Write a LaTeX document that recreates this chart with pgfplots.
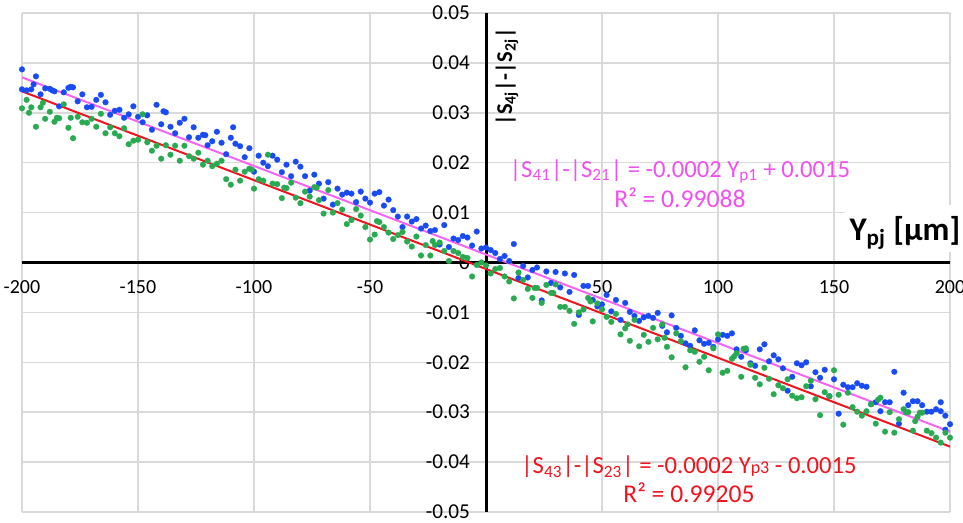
\documentclass[border=0pt]{standalone}
\usepackage{fontspec}
\setmainfont{Carlito}
\usepackage{pgfplots}
\pgfplotsset{compat=1.18}
\definecolor{bluedot}{RGB}{25,75,245}
\definecolor{greendot}{RGB}{40,170,80}
\definecolor{pinkline}{RGB}{245,100,245}
\definecolor{pinktext}{RGB}{240,80,240}
\definecolor{redline}{RGB}{240,20,30}
\definecolor{gridgray}{RGB}{217,217,217}
\begin{document}
\begin{tikzpicture}
\begin{axis}[
  name=ax,
  width=464pt, height=249.5pt, scale only axis,
  xmin=-200, xmax=200, ymin=-0.05, ymax=0.05,
  axis lines=middle,
  axis line style={line width=1.5pt, black, -},
  xtick={-200,-150,-100,-50,50,100,150,200},
  xticklabels={-200,-150,-100,-50,50,100,150,200},
  ytick={-0.05,-0.04,-0.03,-0.02,-0.01,0,0.01,0.02,0.03,0.04,0.05},
  yticklabels={-0.05,-0.04,-0.03,-0.02,-0.01,0,0.01,0.02,0.03,0.04,0.05},
  hide obscured x ticks=false, hide obscured y ticks=false,
  major tick length=0pt,
  grid=major, major grid style={line width=0.75pt, color=gridgray},
  tick label style={font=\fontsize{10}{12}\selectfont},
  yticklabel style={font=\fontsize{10.6}{12}\selectfont, xshift=-4.5pt},
  xticklabel style={yshift=-5.5pt},
  clip=false,
]
\addplot[only marks, mark=*, mark size=1.45pt, mark options={fill=bluedot, draw=bluedot, line width=0.1pt}] coordinates {
(-200,0.0387) (-200,0.0347) (-198,0.0345) (-196,0.0347) (-195,0.0357) (-194,0.0373) (-192,0.0337) (-190,0.0349) (-188,0.0348) (-187,0.0345) (-186,0.0343) (-184,0.0313) (-182,0.0341) (-180,0.0350) (-179,0.0352) (-178,0.0351) (-176,0.0323) (-174,0.0337) (-172,0.0311) (-170,0.0312) (-168,0.0326) (-166,0.0336) (-164,0.0321) (-162,0.0296) (-160,0.0304) (-158,0.0306) (-156,0.0290) (-154,0.0297) (-152,0.0313) (-150,0.0292) (-148,0.0281) (-146,0.0295) (-144,0.0266) (-142,0.0316) (-140,0.0277) (-139,0.0303) (-138,0.0301) (-136,0.0272) (-134,0.0259) (-132,0.0280) (-130,0.0288) (-128,0.0251) (-126,0.0271) (-124,0.0250) (-122,0.0256) (-121,0.0255) (-120,0.0235) (-118,0.0243) (-116,0.0262) (-114,0.0240) (-112,0.0217) (-110,0.0250) (-109,0.0271) (-108,0.0238)
(-106,0.0233) (-104,0.0211) (-102,0.0229) (-100,0.0182) (-98,0.0214) (-96,0.0200) (-94,0.0193) (-92,0.0214) (-90,0.0206) (-88,0.0181) (-86,0.0196) (-84,0.0173) (-82,0.0202) (-80,0.0192) (-78,0.0173) (-76,0.0144) (-74,0.0176) (-72,0.0158) (-70,0.0128) (-68,0.0161) (-66,0.0116) (-64,0.0148) (-62,0.0136) (-60,0.0140) (-58,0.0138) (-56,0.0121) (-54,0.0142) (-52,0.0128) (-50,0.0120) (-48,0.0138) (-46,0.0141) (-44,0.0114) (-42,0.0126) (-40,0.0105) (-38,0.0092) (-36,0.0071) (-34,0.0092) (-32,0.0082) (-30,0.0087) (-28,0.0068) (-26,0.0074) (-24,0.0063) (-22,0.0065) (-20,0.0036) (-18,0.0075) (-16,0.0031) (-14,0.0048) (-12,0.0045) (-10,0.0053) (-8,0.0050) (-6,0.0034) (-4,0.0062) (-2,0.0028)
(0,0.0030) (2,0.0025) (4,0.0019) (6,0.0007) (8,0.0013) (10,0.0003) (12,0.0037) (14,-0.0031) (16,-0.0007) (18,-0.0030) (20,-0.0015) (22,-0.0010) (24,-0.0076) (26,-0.0018) (28,-0.0041) (30,-0.0019) (32,-0.0050) (34,-0.0022) (36,-0.0059) (38,-0.0025) (40,-0.0105) (42,-0.0047) (44,-0.0047) (46,-0.0075) (48,-0.0088) (50,-0.0084) (52,-0.0065) (54,-0.0098) (56,-0.0075) (58,-0.0115) (60,-0.0081) (62,-0.0099) (64,-0.0107) (66,-0.0117) (68,-0.0110) (70,-0.0107) (72,-0.0111) (74,-0.0101) (76,-0.0127) (78,-0.0140) (80,-0.0106) (82,-0.0131) (84,-0.0147) (86,-0.0162) (88,-0.0167) (90,-0.0136) (92,-0.0156) (94,-0.0163) (96,-0.0161) (98,-0.0169)
(100,-0.0154) (102,-0.0145) (104,-0.0147) (106,-0.0142) (108,-0.0174) (110,-0.0189) (112,-0.0176) (114,-0.0202) (116,-0.0207) (118,-0.0174) (120,-0.0164) (122,-0.0198) (124,-0.0186) (126,-0.0194) (128,-0.0212) (130,-0.0257) (132,-0.0229) (134,-0.0202) (136,-0.0206) (138,-0.0200) (140,-0.0248) (142,-0.0220) (144,-0.0231) (146,-0.0215) (148,-0.0268) (150,-0.0234) (152,-0.0303) (154,-0.0245) (156,-0.0250) (158,-0.0250) (160,-0.0242) (162,-0.0247) (164,-0.0249) (166,-0.0284) (168,-0.0280) (170,-0.0298) (172,-0.0280) (174,-0.0280) (176,-0.0219) (178,-0.0323) (180,-0.0261) (182,-0.0286) (184,-0.0278) (186,-0.0278) (188,-0.0286) (190,-0.0299) (192,-0.0299) (194,-0.0294) (196,-0.0280) (196,-0.0298) (198,-0.0307) (198,-0.0335) (200,-0.0324)
};
\addplot[only marks, mark=*, mark size=1.45pt, mark options={fill=greendot, draw=greendot, line width=0.1pt}] coordinates {
(-200,0.0309) (-198,0.0326) (-197,0.0300) (-196,0.0311) (-194,0.0272) (-192,0.0311) (-191,0.0320) (-190,0.0288) (-188,0.0302) (-186,0.0282) (-185,0.0290) (-184,0.0289) (-182,0.0317) (-180,0.0270) (-179,0.0290) (-178,0.0249) (-176,0.0292) (-174,0.0281) (-172,0.0280) (-170,0.0288) (-168,0.0272) (-166,0.0298) (-164,0.0259) (-162,0.0271) (-160,0.0259) (-158,0.0253) (-156,0.0269) (-154,0.0237) (-152,0.0244) (-150,0.0246) (-148,0.0297) (-146,0.0241) (-144,0.0224) (-142,0.0234) (-140,0.0208) (-138,0.0235) (-136,0.0216) (-134,0.0234) (-132,0.0204) (-130,0.0234) (-128,0.0213) (-126,0.0208) (-124,0.0220) (-122,0.0196) (-120,0.0204) (-118,0.0193) (-116,0.0198) (-114,0.0204) (-112,0.0167) (-110,0.0156) (-108,0.0186) (-106,0.0164) (-104,0.0182) (-102,0.0188) (-101,0.0186)
(-100,0.0148) (-98,0.0167) (-96,0.0164) (-94,0.0216) (-92,0.0158) (-90,0.0157) (-88,0.0129) (-87,0.0150) (-86,0.0149) (-84,0.0160) (-82,0.0130) (-80,0.0119) (-78,0.0142) (-76,0.0132) (-74,0.0151) (-73,0.0150) (-72,0.0125) (-70,0.0098) (-68,0.0145) (-66,0.0100) (-64,0.0119) (-62,0.0106) (-60,0.0077) (-58,0.0085) (-56,0.0107) (-54,0.0094) (-52,0.0071) (-50,0.0046) (-48,0.0056) (-47,0.0083) (-46,0.0081) (-44,0.0071) (-42,0.0060) (-40,0.0047) (-38,0.0055) (-36,0.0061) (-34,0.0042) (-32,0.0032) (-30,0.0052) (-28,0.0014) (-26,0.0035) (-24,0.0014) (-23,0.0043) (-22,0.0035) (-20,0.0040) (-18,0.0023) (-16,0.0003) (-14,0.0023) (-12,0.0019) (-10,0.0011) (-8,0.0009) (-6,-0.0028) (-4,-0.0005) (-2,0.0000)
(0,-0.0006) (2,-0.0022) (4,-0.0013) (6,-0.0011) (8,-0.0028) (10,-0.0038) (12,-0.0072) (14,-0.0020) (16,-0.0035) (18,-0.0053) (20,-0.0071) (21,-0.0051) (22,-0.0051) (24,-0.0081) (26,-0.0045) (28,-0.0061) (29,-0.0061) (30,-0.0044) (32,-0.0089) (34,-0.0089) (36,-0.0097) (38,-0.0123) (40,-0.0100) (42,-0.0094) (44,-0.0071) (45,-0.0078) (46,-0.0118) (48,-0.0082) (50,-0.0094) (52,-0.0109) (54,-0.0119) (56,-0.0103) (58,-0.0144) (60,-0.0132) (61,-0.0124) (62,-0.0157) (64,-0.0115) (66,-0.0168) (68,-0.0145) (70,-0.0159) (72,-0.0131) (74,-0.0154) (76,-0.0124) (77,-0.0151) (78,-0.0169) (80,-0.0190) (82,-0.0142) (84,-0.0158) (86,-0.0210) (88,-0.0176) (90,-0.0179) (92,-0.0199) (94,-0.0189) (96,-0.0216) (98,-0.0172)
(100,-0.0144) (102,-0.0221) (104,-0.0217) (106,-0.0193) (107,-0.0188) (108,-0.0182) (110,-0.0229) (111,-0.0173) (112,-0.0172) (114,-0.0205) (116,-0.0231) (118,-0.0244) (120,-0.0211) (122,-0.0233) (124,-0.0264) (126,-0.0246) (128,-0.0252) (130,-0.0234) (132,-0.0267) (134,-0.0272) (136,-0.0270) (138,-0.0248) (140,-0.0237) (142,-0.0274) (144,-0.0306) (146,-0.0260) (148,-0.0268) (150,-0.0216) (152,-0.0265) (154,-0.0325) (156,-0.0261) (158,-0.0290) (160,-0.0299) (162,-0.0307) (164,-0.0298) (166,-0.0284) (168,-0.0323) (169,-0.0275) (170,-0.0271) (172,-0.0339) (174,-0.0300) (176,-0.0341) (178,-0.0314) (180,-0.0294) (181,-0.0300) (182,-0.0300) (184,-0.0337) (185,-0.0318) (186,-0.0309) (187,-0.0301) (188,-0.0301) (190,-0.0337) (192,-0.0342) (194,-0.0351) (196,-0.0361) (198,-0.0341) (200,-0.0351)
};
\addplot[color=pinkline, line width=1pt] coordinates {(-200,0.0371) (200,-0.0339)};
\addplot[color=redline, line width=1pt] coordinates {(-200,0.0343) (200,-0.0369)};
\node[text=pinktext, font=\fontsize{12.3}{14}\selectfont] at (axis cs:83.6,0.0182) {|S\textsubscript{41}|-|S\textsubscript{21}| = -0.0002 Y\textsubscript{p1} + 0.0015};
\node[text=pinktext, font=\fontsize{12.8}{14}\selectfont] at (axis cs:83.6,0.0130) {R² = 0.99088};
\node[text=redline, font=\fontsize{12.3}{14}\selectfont] at (axis cs:87.5,-0.0409) {|S\textsubscript{43}|-|S\textsubscript{23}| = -0.0002 Y{\fontsize{9}{9}\selectfont p3} - 0.0015};
\node[text=redline, font=\fontsize{12.8}{14}\selectfont] at (axis cs:87.5,-0.0461) {R² = 0.99205};
\fill[white] (axis cs:154.7,0.0116) rectangle (axis cs:205.6,0.0022);
\node[anchor=east, font=\bfseries\fontsize{16.5}{19}\selectfont, inner sep=0pt] at (axis cs:204.6,0.0060) {Y\textsubscript{pj} [μm]};
\node[rotate=90, font=\bfseries\fontsize{11.3}{13}\selectfont, inner sep=0pt] at (axis cs:9.05,0.0372) {|S\textsubscript{4j}|-|S\textsubscript{2j}|};
\end{axis}
\pgfresetboundingbox
\path ([xshift=-11pt,yshift=-5.5pt]ax.south west) rectangle ([xshift=6.5pt,yshift=6.5pt]ax.north east);
\end{tikzpicture}
\end{document}
